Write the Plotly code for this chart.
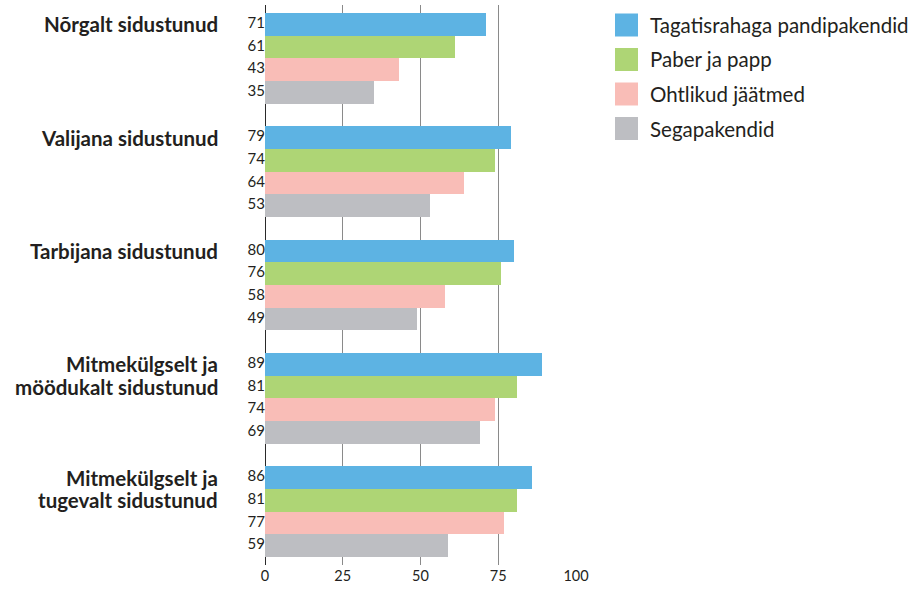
import plotly.graph_objects as go

groups = [["Nõrgalt sidustunud"], ["Valijana sidustunud"], ["Tarbijana sidustunud"],
          ["Mitmekülgselt ja", "möödukalt sidustunud"], ["Mitmekülgselt ja", "tugevalt sidustunud"]]
series = ["Tagatisrahaga pandipakendid", "Paber ja papp", "Ohtlikud jäätmed", "Segapakendid"]
values = [
    [71, 79, 80, 89, 86],
    [61, 74, 76, 81, 81],
    [43, 64, 58, 74, 77],
    [35, 53, 49, 69, 59],
]
colors = ["#5db3e3", "#aed575", "#f9bdb7", "#bdbec2"]
x_ticks = [0, 25, 50, 75, 100]

FONT = "Lato"
W, H = 915, 589
L, R, T, B = 265, 339, 5, 24
PITCH = 5

fig = go.Figure()
for s, name in enumerate(series):
    ys = [g * PITCH + s for g in range(len(groups))]
    fig.add_trace(go.Bar(
        x=values[s], y=ys, orientation="h", width=1, name=name,
        marker=dict(color=colors[s], line=dict(width=0)), showlegend=False,
        hoverinfo="x"))
    fig.add_trace(go.Scatter(
        x=[0] * len(ys), y=ys, mode="text", text=[str(v) for v in values[s]],
        textposition="middle left", textfont=dict(size=15, color="#231f20", family=FONT),
        showlegend=False, hoverinfo="skip", cliponaxis=False))

pw = W - L - R
ph = H - T - B
annotations = []
for g, lines in enumerate(groups):
    for i, line in enumerate(lines):
        annotations.append(dict(
            x=(218 - L) / pw, xref="paper", y=g * PITCH + i, yref="y",
            text="<b>" + line + "</b>", showarrow=False, xanchor="right", yanchor="middle",
            font=dict(size=20.5, color="#231f20", family=FONT), xshift=2))

shapes = []
for s, name in enumerate(series):
    cy = 25 + s * 34.5
    x0 = (615 - L) / pw
    x1 = (638 - L) / pw
    y0 = 1 - (cy - 11.5 - T) / ph
    y1 = 1 - (cy + 11.5 - T) / ph
    shapes.append(dict(type="rect", xref="paper", yref="paper", x0=x0, x1=x1, y0=y1, y1=y0,
                       fillcolor=colors[s], line=dict(width=0)))
    annotations.append(dict(x=(648 - L) / pw, xref="paper", y=1 - (cy - T) / ph, yref="paper",
                            text=name, showarrow=False, xanchor="left", yanchor="middle",
                            font=dict(size=20.5, color="#231f20", family=FONT)))

fig.update_layout(
    width=W, height=H, margin=dict(l=L, r=R, t=T, b=B),
    paper_bgcolor="white", plot_bgcolor="white",
    barmode="overlay", bargap=0,
    xaxis=dict(range=[0, 100], tickvals=x_ticks, showgrid=True, gridcolor="#8a8a8a", gridwidth=1,
               zeroline=True, zerolinecolor="#2a2a2a", zerolinewidth=1.3, showline=False,
               tickfont=dict(size=14.5, color="#231f20", family=FONT), ticks="",
               fixedrange=True),
    yaxis=dict(range=[23.85, -0.85], showticklabels=False, showgrid=False, zeroline=False,
               showline=False, fixedrange=True),
    shapes=shapes, annotations=annotations, showlegend=False,
)

fig.write_html("out.html", config={"displayModeBar": False},
               post_script="document.body.style.margin='0';document.body.style.padding='0';")
